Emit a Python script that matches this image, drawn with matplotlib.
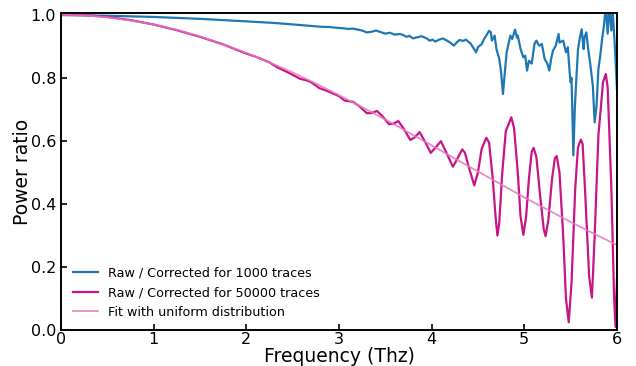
import numpy as np
import matplotlib
matplotlib.use("Agg")
import matplotlib.pyplot as plt

# Raw / corrected power ratio, 1000 traces
freq_1k = [0.0, 0.5, 1.0, 1.5, 2.0, 2.3, 2.6, 2.8, 2.9, 3.0, 3.05, 3.1, 3.15, 3.2,
           3.25, 3.3, 3.35, 3.4, 3.45, 3.5, 3.55, 3.6, 3.66, 3.69, 3.73, 3.76, 3.80,
           3.85, 3.89, 3.94, 3.98, 4.01, 4.04, 4.08, 4.12, 4.16, 4.20, 4.24, 4.27,
           4.30, 4.34, 4.37, 4.42, 4.45, 4.48, 4.50, 4.54, 4.57, 4.59, 4.62, 4.64,
           4.65, 4.68, 4.70, 4.73, 4.75, 4.77, 4.79, 4.81, 4.85, 4.87, 4.90, 4.92,
           4.93, 4.96, 4.99, 5.01, 5.03, 5.05, 5.08, 5.11, 5.13, 5.16, 5.19, 5.22,
           5.25, 5.27, 5.29, 5.31, 5.34, 5.37, 5.38, 5.42, 5.45, 5.47, 5.49, 5.50,
           5.51, 5.53, 5.545, 5.56, 5.58, 5.60, 5.62, 5.64, 5.65, 5.67, 5.69, 5.71,
           5.74, 5.76, 5.78, 5.80, 5.82, 5.84, 5.86, 5.88, 5.90, 5.92, 5.94, 5.95,
           5.98, 6.00]
ratio_1k = [0.999, 0.997, 0.993, 0.987, 0.979, 0.974, 0.967, 0.962, 0.961, 0.958,
            0.957, 0.955, 0.956, 0.953, 0.950, 0.944, 0.946, 0.950, 0.945, 0.940,
            0.943, 0.937, 0.939, 0.936, 0.930, 0.933, 0.925, 0.929, 0.932, 0.926,
            0.918, 0.921, 0.915, 0.921, 0.925, 0.919, 0.912, 0.902, 0.912, 0.920,
            0.917, 0.921, 0.909, 0.895, 0.881, 0.897, 0.907, 0.925, 0.934, 0.949,
            0.944, 0.918, 0.934, 0.891, 0.860, 0.817, 0.749, 0.817, 0.881, 0.934,
            0.923, 0.953, 0.928, 0.934, 0.891, 0.865, 0.870, 0.823, 0.854, 0.845,
            0.907, 0.918, 0.902, 0.907, 0.860, 0.844, 0.823, 0.860, 0.886, 0.902,
            0.939, 0.912, 0.918, 0.881, 0.897, 0.817, 0.786, 0.800, 0.554, 0.700,
            0.786, 0.891, 0.928, 0.954, 0.891, 0.928, 0.944, 0.891, 0.849, 0.775,
            0.659, 0.710, 0.828, 0.870, 0.923, 0.965, 1.030, 0.940, 1.030, 0.950,
            1.030, 0.891, 0.765]

# Raw / corrected power ratio, 50000 traces
freq_50k = [0.0, 0.25, 0.5, 0.75, 1.0, 1.25, 1.5, 1.75, 2.0, 2.1, 2.25, 2.33, 2.45,
            2.58, 2.65, 2.70, 2.79, 2.85, 2.90, 3.0, 3.06, 3.15, 3.22, 3.30, 3.35,
            3.41, 3.47, 3.54, 3.59, 3.64, 3.70, 3.77, 3.82, 3.87, 3.93, 3.99, 4.04,
            4.10, 4.16, 4.23, 4.28, 4.33, 4.36, 4.40, 4.46, 4.50, 4.54, 4.59, 4.62,
            4.66, 4.69, 4.71, 4.73, 4.76, 4.80, 4.86, 4.89, 4.93, 4.96, 4.99, 5.02,
            5.05, 5.08, 5.10, 5.13, 5.17, 5.21, 5.23, 5.26, 5.30, 5.33, 5.35, 5.38,
            5.42, 5.45, 5.48, 5.51, 5.55, 5.58, 5.61, 5.63, 5.66, 5.70, 5.73, 5.76,
            5.80, 5.85, 5.88, 5.90, 5.91, 5.94, 5.97, 5.985, 6.0]
ratio_50k = [1.0, 0.999, 0.993, 0.983, 0.969, 0.951, 0.930, 0.906, 0.877, 0.867,
             0.849, 0.834, 0.817, 0.797, 0.792, 0.786, 0.767, 0.761, 0.755, 0.742,
             0.728, 0.724, 0.710, 0.688, 0.688, 0.695, 0.678, 0.653, 0.655, 0.663,
             0.638, 0.603, 0.612, 0.628, 0.597, 0.562, 0.578, 0.599, 0.562, 0.518,
             0.545, 0.573, 0.562, 0.518, 0.459, 0.500, 0.575, 0.610, 0.595, 0.480,
             0.360, 0.300, 0.340, 0.490, 0.630, 0.675, 0.640, 0.500, 0.360, 0.302,
             0.360, 0.480, 0.565, 0.578, 0.550, 0.430, 0.320, 0.298, 0.350, 0.480,
             0.545, 0.552, 0.500, 0.300, 0.100, 0.025, 0.150, 0.450, 0.580, 0.604,
             0.590, 0.420, 0.170, 0.103, 0.300, 0.617, 0.786, 0.812, 0.770, 0.690,
             0.450, 0.100, 0.010, 0.160]

# Fit with a uniform distribution
freq_fit = [0.0, 0.25, 0.5, 0.75, 1.0, 1.25, 1.5, 1.75, 2.0, 2.25, 2.5, 2.75, 3.0,
            3.25, 3.5, 3.75, 4.0, 4.25, 4.5, 4.75, 5.0, 5.25, 5.5, 5.75, 6.0]
ratio_fit = [1.0, 0.998, 0.992, 0.982, 0.969, 0.952, 0.931, 0.906, 0.879, 0.849,
             0.817, 0.782, 0.745, 0.707, 0.668, 0.627, 0.586, 0.544, 0.503, 0.462,
             0.421, 0.382, 0.343, 0.306, 0.270]

labels = ["Raw / Corrected for 1000 traces",
          "Raw / Corrected for 50000 traces",
          "Fit with uniform distribution"]

fig = plt.figure(figsize=(6.36, 3.66), dpi=100)
ax = fig.add_axes([0.096, 0.098, 0.874, 0.866])

ax.plot(freq_1k, ratio_1k, color="#1f77b4", lw=1.6, label=labels[0])
ax.plot(freq_50k, ratio_50k, color="#c71585", lw=1.6, label=labels[1])
ax.plot(freq_fit, ratio_fit, color="#e377c2", lw=1.3, alpha=0.85, label=labels[2])

ax.set_xlim(0, 6)
ax.set_ylim(0, 1.005)
ax.set_xticks(np.arange(0, 7, 1))
ax.set_yticks([0.0, 0.2, 0.4, 0.6, 0.8, 1.0])
ax.tick_params(direction="in", length=4.5, width=1.2, labelsize=11.5)
ax.tick_params(axis="x", pad=1.5)
for s in ax.spines.values():
    s.set_linewidth(1.4)

ax.set_xlabel("Frequency (Thz)", fontsize=13.5, labelpad=0)
ax.set_ylabel("Power ratio", fontsize=13.5, labelpad=-1)
ax.legend(loc="lower left", frameon=False, fontsize=9.2, handlelength=2.0)

fig.savefig("out.png", dpi=100)
